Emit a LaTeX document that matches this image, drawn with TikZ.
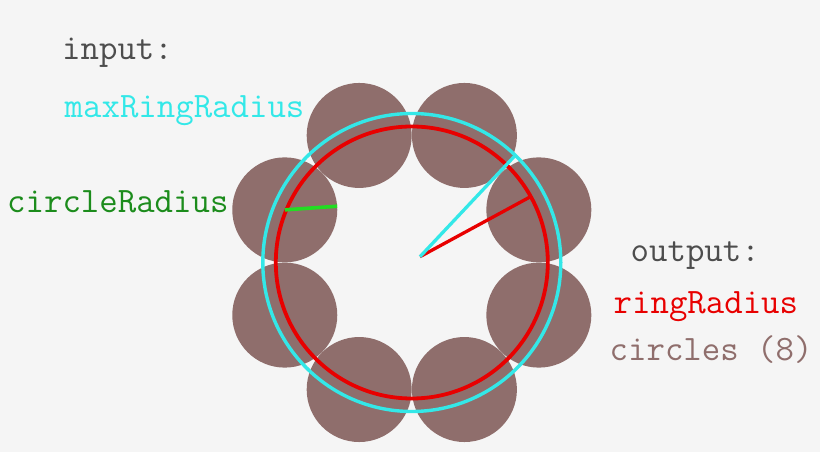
\documentclass[tikz,border=0pt]{standalone}
\usepackage{fontspec}
\usetikzlibrary{calc}
\definecolor{bgcol}{HTML}{F5F5F5}
\definecolor{discbrown}{HTML}{8F6E6C}
\definecolor{maxcyan}{HTML}{33E8E8}
\definecolor{ringred}{HTML}{E80000}
\definecolor{radgreen}{HTML}{22DD22}
\definecolor{radgreentxt}{HTML}{1C8C1C}
\definecolor{txtgray}{HTML}{4D4D4D}
\tikzset{
   disc/.style={circle,fill=discbrown,inner sep=0pt,outer sep=0pt,minimum size=105pt},
   ring/.style={circle,inner sep=0pt,outer sep=0pt},
   txt/.style={anchor=base west,inner sep=0pt,font=\ttfamily\fontsize{35.8}{40}\selectfont}
}
\begin{document}
\begin{tikzpicture}[x=1pt,y=1pt]
   \fill[bgcol] (0,0) rectangle (820,452);
   \useasboundingbox (0,0) rectangle (820,452);
   \coordinate (c) at (411.8,189.5);
   \coordinate (o) at (420,195.3);

   % the eight circles
   \foreach \i in {1,...,8}
      \node[disc] (ci\i) at ($(c)+(45*\i-22.5:137.5)$) {};

   % rings
   \node[ring,draw=ringred,line width=3.8pt,minimum size=272pt] (ring) at (c) {};
   \node[ring,draw=maxcyan,line width=3.4pt,minimum size=298pt] (maxring) at (c) {};

   % radii
   \draw[ringred,line width=3.3pt] (o) -- (ring.29.3);
   \draw[maxcyan,line width=3.3pt] (o) -- (maxring.46.7);
   \draw[radgreen,line width=3.6pt] (ci4.center) -- (ci4.4);

   \node[txt,text=txtgray] (input) at (62,392) {input:};
   \node[txt,text=maxcyan] (maxname) at (64.5,334) {maxRingRadius};
   \node[txt,text=radgreentxt] (circname) at (7,239) {circleRadius};
   \node[txt,text=txtgray] (output) at (630.5,190) {output:};
   \node[txt,text=ringred] (ringname) at (613.5,138) {ringRadius};
   \node[txt,text=discbrown] (circlesname) at (609.5,91.3) {circles (8)};
\end{tikzpicture}
\end{document}
